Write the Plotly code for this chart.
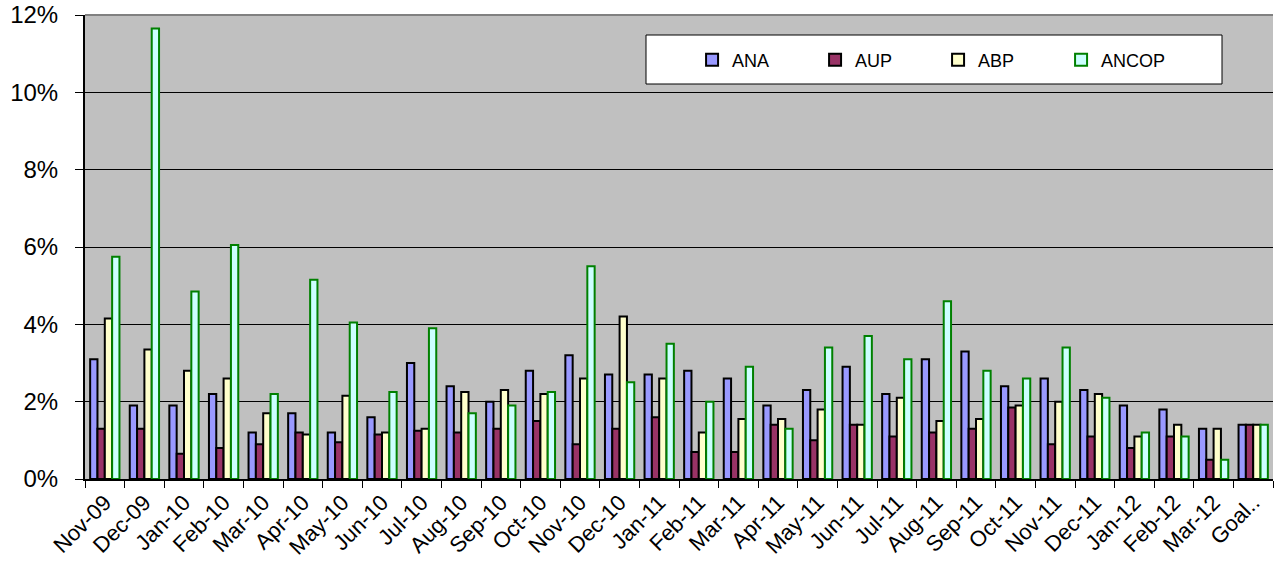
import plotly.graph_objects as go


# ---------------------------------------
# Data
# ---------------------------------------

months = [
    "Nov-09", "Dec-09", "Jan-10", "Feb-10", "Mar-10", "Apr-10", "May-10",
    "Jun-10", "Jul-10", "Aug-10", "Sep-10", "Oct-10", "Nov-10", "Dec-10",
    "Jan-11", "Feb-11", "Mar-11", "Apr-11", "May-11", "Jun-11", "Jul-11",
    "Aug-11", "Sep-11", "Oct-11", "Nov-11", "Dec-11", "Jan-12", "Feb-12",
    "Mar-12", "Goal.."
]

ana = [3.1, 1.9, 1.9, 2.2, 1.2, 1.7, 1.2, 1.6, 3.0, 2.4, 2.0, 2.8, 3.2, 2.7,
       2.7, 2.8, 2.6, 1.9, 2.3, 2.9, 2.2, 3.1, 3.3, 2.4, 2.6, 2.3, 1.9, 1.8,
       1.3, 1.4]

aup = [1.3, 1.3, 0.65, 0.8, 0.9, 1.2, 0.95, 1.15, 1.25, 1.2, 1.3, 1.5, 0.9,
       1.3, 1.6, 0.7, 0.7, 1.4, 1.0, 1.4, 1.1, 1.2, 1.3, 1.85, 0.9, 1.1, 0.8,
       1.1, 0.5, 1.4]

abp = [4.15, 3.35, 2.8, 2.6, 1.7, 1.15, 2.15, 1.2, 1.3, 2.25, 2.3, 2.2, 2.6,
       4.2, 2.6, 1.2, 1.55, 1.55, 1.8, 1.4, 2.1, 1.5, 1.55, 1.9, 2.0, 2.2,
       1.1, 1.4, 1.3, 1.4]

ancop = [5.75, 11.65, 4.85, 6.05, 2.2, 5.15, 4.05, 2.25, 3.9, 1.7, 1.9, 2.25,
         5.5, 2.5, 3.5, 2.0, 2.9, 1.3, 3.4, 3.7, 3.1, 4.6, 2.8, 2.6, 3.4, 2.1,
         1.2, 1.1, 0.5, 1.4]

y_ticks = [0, 2, 4, 6, 8, 10, 12]


# ---------------------------------------
# Chart
# ---------------------------------------

series = [
    ("ANA", ana, "#9999FF", "black"),
    ("AUP", aup, "#993366", "black"),
    ("ABP", abp, "#FFFFCC", "black"),
    ("ANCOP", ancop, "#CCFFFF", "#008000"),
]

fig = go.Figure()

for name, vals, fill, edge in series:
    fig.add_trace(go.Bar(
        name=name,
        x=months,
        y=vals,
        marker=dict(color=fill, line=dict(color=edge, width=2))
    ))

fig.update_layout(
    width=1277,
    height=565,
    barmode="group",
    bargap=0.26,
    bargroupgap=0,
    paper_bgcolor="white",
    plot_bgcolor="#C0C0C0",
    font=dict(family="Liberation Sans, Arial", color="black"),
    margin=dict(l=85, r=4, t=15, b=86, autoexpand=False),
    legend=dict(
        orientation="h",
        x=0.511,
        y=0.903,
        xanchor="left",
        yanchor="middle",
        bgcolor="rgba(0,0,0,0)",
        borderwidth=0,
        font=dict(size=18),
        entrywidth=78,
        itemwidth=30,
        traceorder="normal"
    ),
    showlegend=True,
    shapes=[
        # legend frame, drawn bigger than plotly's own legend box
        dict(
            type="rect", xref="paper", yref="paper",
            x0=(646 - 85) / 1188, x1=(1222 - 85) / 1188,
            y0=(479 - 84) / 464, y1=(479 - 35) / 464,
            fillcolor="white", line=dict(color="black", width=1),
            layer="above"
        ),
        # grey top edge of the plot area
        dict(
            type="line", xref="paper", yref="paper",
            x0=0, x1=1, y0=1, y1=1,
            line=dict(color="#808080", width=2)
        ),
    ]
)

fig.update_yaxes(
    range=[0, 12],
    tickvals=y_ticks,
    ticktext=[f"{v}%" for v in y_ticks],
    tickfont=dict(size=24),
    showgrid=True,
    gridcolor="black",
    gridwidth=1,
    showline=True,
    linecolor="black",
    linewidth=2,
    ticks="outside",
    ticklen=8,
    tickcolor="black",
    ticklabelstandoff=12,
    ticklabeloverflow="allow",
    zeroline=False,
    automargin=False
)

fig.update_xaxes(
    tickangle=-45,
    tickfont=dict(size=22),
    showline=True,
    linecolor="black",
    linewidth=2,
    ticks="outside",
    ticklen=7,
    tickcolor="black",
    tickson="boundaries",
    automargin=False
)

# drop the page's default 8px body margin so the figure sits at 0,0
fig.write_html(
    "out.html",
    config={"displayModeBar": False},
    post_script="document.body.style.margin='0';"
)
